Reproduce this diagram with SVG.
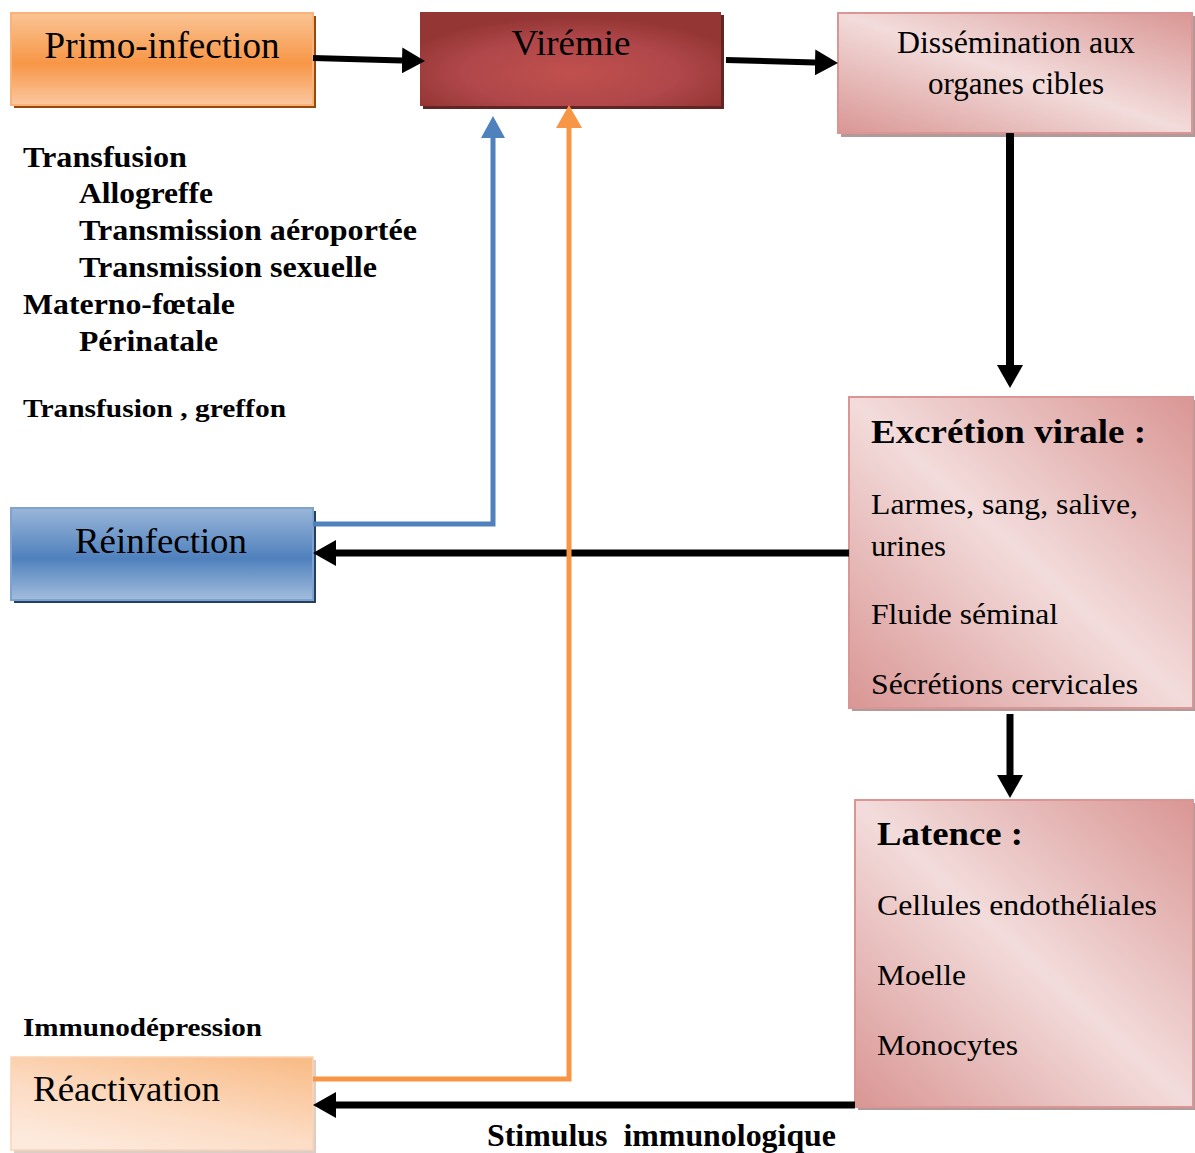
<svg xmlns="http://www.w3.org/2000/svg" width="1195" height="1153" viewBox="0 0 1195 1153">
<defs>
<style>
.t{font-family:"Liberation Serif","Times New Roman",serif;fill:#000}
.b{font-weight:bold}
.blk{stroke:#000;fill:none}
</style>
<linearGradient id="gOr" x1="0" y1="0" x2="0" y2="1">
<stop offset="0" stop-color="#fac494"/><stop offset="0.55" stop-color="#f79646"/><stop offset="1" stop-color="#fbc8a0"/>
</linearGradient>
<linearGradient id="gBl" x1="0" y1="0" x2="0" y2="1">
<stop offset="0" stop-color="#9ab6d9"/><stop offset="0.55" stop-color="#4f81bd"/><stop offset="1" stop-color="#a3bddd"/>
</linearGradient>
<radialGradient id="gRd" cx="0.5" cy="0.65" r="0.6">
<stop offset="0" stop-color="#c0504d"/><stop offset="0.6" stop-color="#b0474a"/><stop offset="1" stop-color="#943634"/>
</radialGradient>
<linearGradient id="gPk" x1="1" y1="0" x2="0" y2="1">
<stop offset="0" stop-color="#d99694"/><stop offset="0.5" stop-color="#f2dcdb"/><stop offset="1" stop-color="#d99694"/>
</linearGradient>
<linearGradient id="gRe" x1="0.85" y1="0" x2="0.25" y2="1">
<stop offset="0" stop-color="#f9bd8a"/><stop offset="0.6" stop-color="#fcdcc4"/><stop offset="1" stop-color="#fdeadd"/>
</linearGradient>
<marker id="aK" markerUnits="userSpaceOnUse" markerWidth="24" markerHeight="26" refX="0" refY="13" orient="auto">
<path d="M0,0 L23,13 L0,26 z" fill="#000"/>
</marker>
<marker id="aB" markerUnits="userSpaceOnUse" markerWidth="24" markerHeight="26" refX="0" refY="12" orient="auto">
<path d="M0,0 L22,12 L0,24 z" fill="#4f81bd"/>
</marker>
<marker id="aO" markerUnits="userSpaceOnUse" markerWidth="26" markerHeight="28" refX="0" refY="13" orient="auto">
<path d="M0,0 L23,13 L0,26 z" fill="#f79646"/>
</marker>
</defs>

<g id="primo">
<rect x="14" y="16" width="302" height="92" fill="#984807"/>
<rect x="11" y="13" width="302" height="92" fill="url(#gOr)" stroke="#f9b27a" stroke-width="2"/>
<text class="t" x="162" y="58" font-size="37" text-anchor="middle" textLength="235" lengthAdjust="spacingAndGlyphs">Primo-infection</text>
</g>

<g id="viremie">
<rect x="423" y="15" width="301" height="94" fill="#632523"/>
<rect x="420" y="12" width="301" height="94" fill="url(#gRd)"/>
<text class="t" x="571" y="55" font-size="35" text-anchor="middle" textLength="119" lengthAdjust="spacingAndGlyphs">Virémie</text>
</g>

<g id="dissemination">
<rect x="841" y="16" width="354" height="121" fill="#b29a9a"/>
<rect x="838" y="13" width="354" height="120" fill="url(#gPk)" stroke="#d99694" stroke-width="2"/>
<text class="t" x="1016" y="53" font-size="31" text-anchor="middle" textLength="238" lengthAdjust="spacingAndGlyphs">Dissémination aux</text>
<text class="t" x="1016" y="94" font-size="31" text-anchor="middle">organes cibles</text>
</g>

<g id="excretion">
<rect x="852" y="400" width="344" height="311" fill="#b29a9a"/>
<rect x="849" y="397" width="344" height="311" fill="url(#gPk)" stroke="#d99694" stroke-width="2"/>
<text class="t b" x="871" y="443" font-size="33" textLength="275" lengthAdjust="spacingAndGlyphs">Excrétion virale :</text>
<text class="t" x="871" y="514" font-size="30" textLength="267" lengthAdjust="spacingAndGlyphs">Larmes, sang, salive,</text>
<text class="t" x="871" y="556" font-size="30" textLength="75" lengthAdjust="spacingAndGlyphs">urines</text>
<text class="t" x="871" y="624" font-size="30" textLength="187" lengthAdjust="spacingAndGlyphs">Fluide séminal</text>
<text class="t" x="871" y="694" font-size="30" textLength="267" lengthAdjust="spacingAndGlyphs">Sécrétions cervicales</text>
</g>

<g id="latence">
<rect x="858" y="803" width="338" height="307" fill="#b29a9a"/>
<rect x="855" y="800" width="338" height="307" fill="url(#gPk)" stroke="#d99694" stroke-width="2"/>
<text class="t b" x="877" y="845" font-size="33" textLength="146" lengthAdjust="spacingAndGlyphs">Latence :</text>
<text class="t" x="877" y="915" font-size="30" textLength="280" lengthAdjust="spacingAndGlyphs">Cellules endothéliales</text>
<text class="t" x="877" y="985" font-size="30" textLength="89" lengthAdjust="spacingAndGlyphs">Moelle</text>
<text class="t" x="877" y="1055" font-size="30" textLength="141" lengthAdjust="spacingAndGlyphs">Monocytes</text>
</g>

<g id="reinfection">
<rect x="14" y="511" width="302" height="92" fill="#243f60"/>
<rect x="11" y="508" width="302" height="92" fill="url(#gBl)" stroke="#7fa3cf" stroke-width="2"/>
<text class="t" x="161" y="553" font-size="36" text-anchor="middle" textLength="172" lengthAdjust="spacingAndGlyphs">Réinfection</text>
</g>

<g id="reactivation">
<rect x="14" y="1060" width="302" height="93" fill="#d9cfc8"/>
<rect x="11" y="1057" width="302" height="93" fill="url(#gRe)" stroke="#fbd4b4" stroke-width="1.5"/>
<text class="t" x="33" y="1101" font-size="36" textLength="187" lengthAdjust="spacingAndGlyphs">Réactivation</text>
</g>

<g id="labels">
<text class="t b" x="23" y="167" font-size="29" textLength="164" lengthAdjust="spacingAndGlyphs">Transfusion</text>
<text class="t b" x="79" y="203" font-size="29" textLength="134" lengthAdjust="spacingAndGlyphs">Allogreffe</text>
<text class="t b" x="79" y="240" font-size="29" textLength="338" lengthAdjust="spacingAndGlyphs">Transmission aéroportée</text>
<text class="t b" x="79" y="277" font-size="29" textLength="298" lengthAdjust="spacingAndGlyphs">Transmission sexuelle</text>
<text class="t b" x="23" y="314" font-size="29" textLength="212" lengthAdjust="spacingAndGlyphs">Materno-fœtale</text>
<text class="t b" x="79" y="351" font-size="29" textLength="139" lengthAdjust="spacingAndGlyphs">Périnatale</text>
<text class="t b" x="23" y="417" font-size="25" textLength="263" lengthAdjust="spacingAndGlyphs">Transfusion , greffon</text>
<text class="t b" x="23" y="1036" font-size="26" textLength="239" lengthAdjust="spacingAndGlyphs">Immunodépression</text>
<text class="t b" x="487" y="1146" font-size="31" textLength="349" lengthAdjust="spacingAndGlyphs" xml:space="preserve">Stimulus  immunologique</text>
</g>

<g id="connectors">
<line class="blk" x1="313" y1="58" x2="402" y2="60.4" stroke-width="6" marker-end="url(#aK)"/>
<line class="blk" x1="726" y1="60" x2="815" y2="62.4" stroke-width="6" marker-end="url(#aK)"/>
<line class="blk" x1="1010" y1="133" x2="1010" y2="365" stroke-width="8" marker-end="url(#aK)"/>
<line class="blk" x1="1010" y1="714" x2="1010" y2="775" stroke-width="7" marker-end="url(#aK)"/>
<line class="blk" x1="849" y1="553" x2="336" y2="553" stroke-width="7" marker-end="url(#aK)"/>
<line class="blk" x1="855" y1="1105" x2="336" y2="1105" stroke-width="7" marker-end="url(#aK)"/>
<path d="M313,524 H493 V138" fill="none" stroke="#4f81bd" stroke-width="5" marker-end="url(#aB)"/>
<path d="M313,1079 H569 V128" fill="none" stroke="#f79646" stroke-width="5" marker-end="url(#aO)"/>
</g>
</svg>
